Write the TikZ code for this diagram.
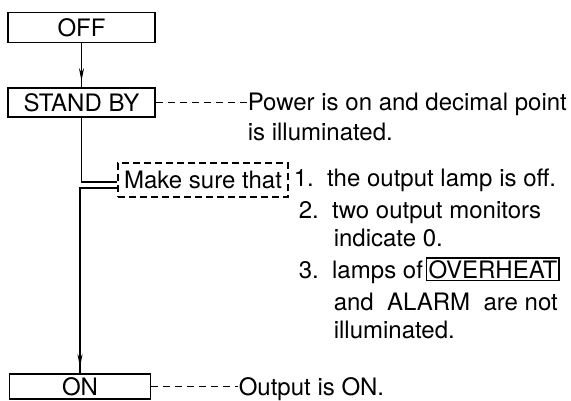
\documentclass[tikz,border=0pt]{standalone}
\usepackage{fontspec}
\setmainfont{TeX Gyre Heros}
\usetikzlibrary{positioning,decorations.markings,arrows.meta}
\tikzset{
  flowchart/.style={x=1pt, y=-1pt, line width=1.6pt, font=\fontsize{24}{28}\selectfont},
  statebox/.style={draw, line width=1.8pt, minimum width=147pt, minimum height=30pt, inner sep=0pt},
  checkbox/.style={draw, dash pattern=on 7pt off 4pt, line width=1.5pt,
    minimum width=170pt, minimum height=34pt, inner sep=0pt},
  note/.style={anchor=base west, inner sep=0pt},
  leader/.style={dash pattern=on 7pt off 5pt, line width=1.4pt},
  flow/.style={postaction={decorate}, decoration={markings,
    mark=at position -6pt with {\arrow{Stealth[length=13pt,width=5pt]}}}},
  framedword/.style={draw, line width=1.5pt, inner sep=2pt},
}

\begin{document}
\begin{tikzpicture}[flowchart]
  \useasboundingbox (0,0) rectangle (571,400);
  % states
  \node[statebox] (off) at (81.5,27.5) {OFF};
  \node[statebox, minimum height=29pt] (standby) at (81.5,102.5) {STAND BY};
  \node[statebox, minimum width=141pt, minimum height=25pt] (on) at (80,386.5) {ON};
  \node[checkbox] (check) at (203,180) {Make sure that};
  % remarks
  \node[note] (power) at (247,110) {Power is on and decimal point};
  \node[note] (powerb) at (247,140) {is illuminated.};
  \node[note] (item1) at (293,186) {1.\ \ the output lamp is off.};
  \node[note] (item2) at (298,218) {2.\ \ two output monitors};
  \node[note] (item2b) at (333,246) {indicate 0.};
  \node[note] (item3) at (298,278) {3.\ \ lamps of};
  \node[note, framedword] (overheat) at ([xshift=2pt]item3.base east) {OVERHEAT};
  \node[note] (item3b) at (333,310) {and\ \ ALARM\ \ are not};
  \node[note] (item3c) at (333,338) {illuminated.};
  \node[note] (output) at (238,395) {Output is ON.};
  % connectors
  \draw[flow] (off) -- (standby);
  \draw (standby.south) |- ([yshift=-2pt]check.west);
  \draw[flow] ([yshift=-8pt]check.west) -| (on.north);
  \draw[leader] (standby.east) -- (standby.east -| power.west);
  \draw[leader] (on.east) -- (on.east -| output.west);
\end{tikzpicture}
\end{document}
